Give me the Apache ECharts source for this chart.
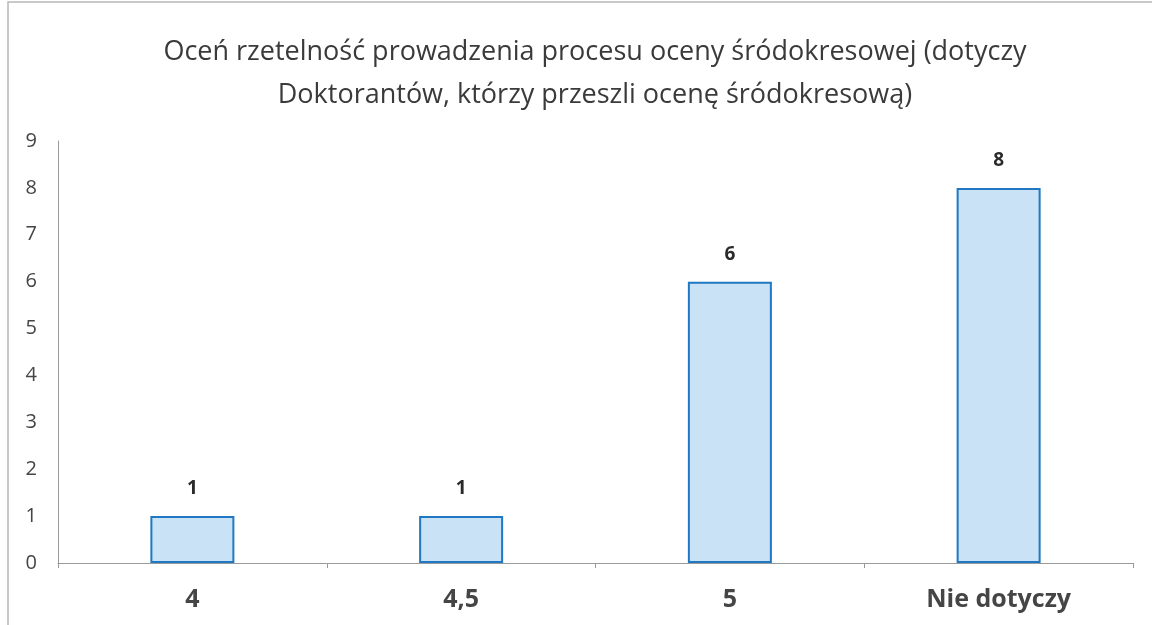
<!DOCTYPE html>
<html>
<head>
<meta charset="utf-8">
<script src="https://cdn.jsdelivr.net/npm/echarts@6/dist/echarts.min.js"></script>
<style>
  html, body { margin: 0; padding: 0; background: #fff; }
  #chart { width: 1152px; height: 625px; }
</style>
</head>
<body>
<div id="chart"></div>
<script>
// Ocena rzetelności procesu oceny śródokresowej – słupki z etykietami
const titleText = 'Oceń rzetelność prowadzenia procesu oceny śródokresowej (dotyczy\nDoktorantów, którzy przeszli ocenę śródokresową)';
const categories = ['4', '4,5', '5', 'Nie dotyczy'];
const counts = [1, 1, 6, 8];

const chart = echarts.init(document.getElementById('chart'));

chart.setOption({
  backgroundColor: '#fff',
  animation: false,
  title: {
    text: titleText,
    left: 590,
    textAlign: 'center',
    top: 26,
    textStyle: {
      fontFamily: 'Open Sans',
      fontSize: 27,
      fontWeight: 'normal',
      color: '#3a3a3a',
      lineHeight: 43
    }
  },
  graphic: [
    {
      type: 'rect',
      shape: { x: 8, y: 2, width: 1160, height: 640 },
      style: { fill: 'none', stroke: '#b8b8b8', lineWidth: 1.5 },
      silent: true
    }
  ],
  grid: { left: 58, right: 19, top: 141, bottom: 62 },
  xAxis: {
    type: 'category',
    data: categories,
    axisLine: { lineStyle: { color: '#9a9a9a', width: 1 } },
    axisTick: { show: true, length: 5, lineStyle: { color: '#9a9a9a' } },
    axisLabel: {
      margin: 24,
      fontFamily: 'Open Sans',
      fontSize: 25,
      fontWeight: 'bold',
      color: '#454545'
    }
  },
  yAxis: {
    type: 'value',
    min: 0,
    max: 9,
    interval: 1,
    axisLine: { show: true, lineStyle: { color: '#9a9a9a', width: 1 } },
    axisTick: { show: false },
    splitLine: { show: false },
    axisLabel: {
      margin: 21,
      fontFamily: 'Open Sans',
      fontSize: 20,
      color: '#454545'
    }
  },
  series: [
    {
      type: 'bar',
      data: counts,
      barWidth: 84,
      itemStyle: {
        color: '#c9e2f6',
        borderColor: '#1f78c1',
        borderWidth: 2
      },
      label: {
        show: true,
        position: 'top',
        distance: 18,
        fontFamily: 'Open Sans',
        fontSize: 19,
        fontWeight: 'bold',
        color: '#2a2a2a'
      }
    }
  ]
});
</script>
</body>
</html>
